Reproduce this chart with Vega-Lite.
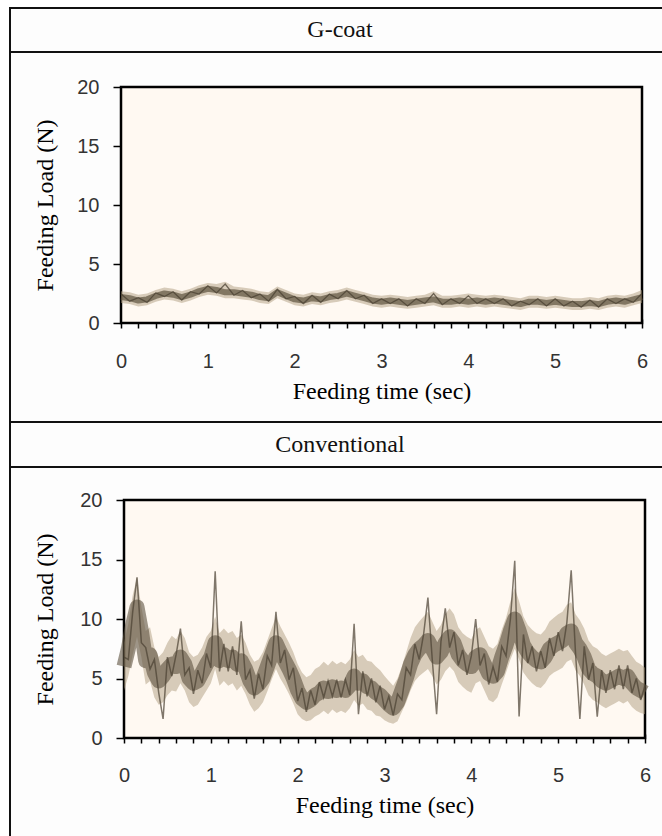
{
  "$schema": "https://vega.github.io/schema/vega-lite/v6.json",
  "padding": {"left": 9, "top": 7, "right": 0, "bottom": 0},
  "background": "#ffffff",
  "spacing": 0,
  "bounds": "flush",
  "config": {
    "view": {"stroke": "#111111", "strokeWidth": 2, "fill": "#fdfdfd"},
    "font": "Liberation Serif",
    "axis": {
      "domain": false, "grid": false, "zindex": 1,
      "tickWidth": 1.5, "tickColor": "#000000",
      "labelFont": "Liberation Sans", "labelFontSize": 20, "labelColor": "#333333",
      "labelOverlap": false, "labelFlush": false,
      "titleFont": "Liberation Serif", "titleFontSize": 24, "titleFontWeight": "normal", "titleColor": "#000000"
    },
    "axisX": {"titleBaseline": "alphabetic"},
    "axisY": {"titleBaseline": "middle"}
  },
  "datasets": {
    "frame": [{"t": 0, "t2": 6, "lo": 0, "hi": 20}],
    "gcoat": [
      {"t": 0.0, "c": 2.2, "v": 2.45, "lo": 1.7, "hi": 2.7},
      {"t": 0.1, "c": 2.1, "v": 1.85, "lo": 1.6, "hi": 2.6},
      {"t": 0.2, "c": 1.9, "v": 2.15, "lo": 1.4, "hi": 2.4},
      {"t": 0.3, "c": 2.0, "v": 1.75, "lo": 1.5, "hi": 2.5},
      {"t": 0.4, "c": 2.3, "v": 2.55, "lo": 1.8, "hi": 2.8},
      {"t": 0.5, "c": 2.5, "v": 2.25, "lo": 2.0, "hi": 3.0},
      {"t": 0.6, "c": 2.4, "v": 2.65, "lo": 1.9, "hi": 2.9},
      {"t": 0.7, "c": 2.2, "v": 1.95, "lo": 1.7, "hi": 2.7},
      {"t": 0.8, "c": 2.4, "v": 2.65, "lo": 1.9, "hi": 2.9},
      {"t": 0.9, "c": 2.7, "v": 2.45, "lo": 2.2, "hi": 3.2},
      {"t": 1.0, "c": 2.9, "v": 3.15, "lo": 2.4, "hi": 3.4},
      {"t": 1.1, "c": 2.8, "v": 2.55, "lo": 2.3, "hi": 3.3},
      {"t": 1.2, "c": 2.6, "v": 3.3, "lo": 2.1, "hi": 3.5},
      {"t": 1.3, "c": 2.6, "v": 2.35, "lo": 2.1, "hi": 3.1},
      {"t": 1.4, "c": 2.5, "v": 2.75, "lo": 2.0, "hi": 3.0},
      {"t": 1.5, "c": 2.4, "v": 2.15, "lo": 1.9, "hi": 2.9},
      {"t": 1.6, "c": 2.2, "v": 2.45, "lo": 1.7, "hi": 2.7},
      {"t": 1.7, "c": 2.1, "v": 1.85, "lo": 1.6, "hi": 2.6},
      {"t": 1.8, "c": 2.6, "v": 2.85, "lo": 2.1, "hi": 3.1},
      {"t": 1.9, "c": 2.3, "v": 2.05, "lo": 1.8, "hi": 2.8},
      {"t": 2.0, "c": 2.0, "v": 2.25, "lo": 1.5, "hi": 2.5},
      {"t": 2.1, "c": 1.9, "v": 1.65, "lo": 1.4, "hi": 2.4},
      {"t": 2.2, "c": 2.1, "v": 2.35, "lo": 1.6, "hi": 2.6},
      {"t": 2.3, "c": 2.0, "v": 1.75, "lo": 1.5, "hi": 2.5},
      {"t": 2.4, "c": 2.2, "v": 2.45, "lo": 1.7, "hi": 2.7},
      {"t": 2.5, "c": 2.3, "v": 2.05, "lo": 1.8, "hi": 2.8},
      {"t": 2.6, "c": 2.5, "v": 2.75, "lo": 2.0, "hi": 3.0},
      {"t": 2.7, "c": 2.3, "v": 2.05, "lo": 1.8, "hi": 2.8},
      {"t": 2.8, "c": 2.1, "v": 2.35, "lo": 1.6, "hi": 2.6},
      {"t": 2.9, "c": 1.9, "v": 1.65, "lo": 1.4, "hi": 2.4},
      {"t": 3.0, "c": 1.8, "v": 2.05, "lo": 1.3, "hi": 2.3},
      {"t": 3.1, "c": 1.9, "v": 1.65, "lo": 1.4, "hi": 2.4},
      {"t": 3.2, "c": 1.8, "v": 2.05, "lo": 1.3, "hi": 2.3},
      {"t": 3.3, "c": 1.7, "v": 1.45, "lo": 1.2, "hi": 2.2},
      {"t": 3.4, "c": 1.8, "v": 2.05, "lo": 1.3, "hi": 2.3},
      {"t": 3.5, "c": 1.9, "v": 1.65, "lo": 1.4, "hi": 2.4},
      {"t": 3.6, "c": 2.0, "v": 2.5, "lo": 1.5, "hi": 2.7},
      {"t": 3.7, "c": 1.8, "v": 1.55, "lo": 1.3, "hi": 2.3},
      {"t": 3.8, "c": 1.8, "v": 2.05, "lo": 1.3, "hi": 2.3},
      {"t": 3.9, "c": 1.9, "v": 1.65, "lo": 1.4, "hi": 2.4},
      {"t": 4.0, "c": 1.8, "v": 2.3, "lo": 1.3, "hi": 2.5},
      {"t": 4.1, "c": 1.9, "v": 1.65, "lo": 1.4, "hi": 2.4},
      {"t": 4.2, "c": 1.8, "v": 2.05, "lo": 1.3, "hi": 2.3},
      {"t": 4.3, "c": 1.9, "v": 1.65, "lo": 1.4, "hi": 2.4},
      {"t": 4.4, "c": 1.8, "v": 2.05, "lo": 1.3, "hi": 2.3},
      {"t": 4.5, "c": 1.7, "v": 1.45, "lo": 1.2, "hi": 2.2},
      {"t": 4.6, "c": 1.6, "v": 1.85, "lo": 1.1, "hi": 2.1},
      {"t": 4.7, "c": 1.8, "v": 1.55, "lo": 1.3, "hi": 2.3},
      {"t": 4.8, "c": 1.8, "v": 2.05, "lo": 1.3, "hi": 2.3},
      {"t": 4.9, "c": 1.7, "v": 1.45, "lo": 1.2, "hi": 2.2},
      {"t": 5.0, "c": 1.8, "v": 2.05, "lo": 1.3, "hi": 2.3},
      {"t": 5.1, "c": 1.7, "v": 1.45, "lo": 1.2, "hi": 2.2},
      {"t": 5.2, "c": 1.6, "v": 1.85, "lo": 1.1, "hi": 2.1},
      {"t": 5.3, "c": 1.6, "v": 1.35, "lo": 1.1, "hi": 2.1},
      {"t": 5.4, "c": 1.7, "v": 1.95, "lo": 1.2, "hi": 2.2},
      {"t": 5.5, "c": 1.6, "v": 1.35, "lo": 1.1, "hi": 2.1},
      {"t": 5.6, "c": 1.8, "v": 2.05, "lo": 1.3, "hi": 2.3},
      {"t": 5.7, "c": 1.9, "v": 1.65, "lo": 1.4, "hi": 2.4},
      {"t": 5.8, "c": 1.8, "v": 2.05, "lo": 1.3, "hi": 2.3},
      {"t": 5.9, "c": 2.0, "v": 1.75, "lo": 1.5, "hi": 2.5},
      {"t": 6.0, "c": 2.2, "v": 2.5, "lo": 1.7, "hi": 2.8}
    ],
    "conv": [
      {"t": 0.00, "c": 6.0, "v": 6.8, "lo": 4.0, "hi": 8.0},
      {"t": 0.05, "c": 7.5, "v": 6.6, "lo": 5.2, "hi": 9.6},
      {"t": 0.10, "c": 9.5, "v": 10.6, "lo": 7.0, "hi": 12.0},
      {"t": 0.15, "c": 11.0, "v": 13.5, "lo": 8.5, "hi": 13.5},
      {"t": 0.20, "c": 9.0, "v": 8.0, "lo": 6.8, "hi": 11.0},
      {"t": 0.25, "c": 6.5, "v": 7.6, "lo": 4.5, "hi": 9.0},
      {"t": 0.30, "c": 7.0, "v": 5.8, "lo": 4.8, "hi": 9.3},
      {"t": 0.35, "c": 5.5, "v": 6.6, "lo": 3.4, "hi": 7.6},
      {"t": 0.40, "c": 4.8, "v": 3.8, "lo": 2.8, "hi": 6.8},
      {"t": 0.45, "c": 5.2, "v": 1.6, "lo": 3.0, "hi": 7.2},
      {"t": 0.50, "c": 5.8, "v": 6.8, "lo": 3.6, "hi": 8.0},
      {"t": 0.55, "c": 6.2, "v": 5.2, "lo": 4.0, "hi": 8.6},
      {"t": 0.60, "c": 6.0, "v": 7.0, "lo": 3.9, "hi": 8.3},
      {"t": 0.65, "c": 6.8, "v": 9.2, "lo": 4.6, "hi": 9.0},
      {"t": 0.70, "c": 6.2, "v": 5.3, "lo": 4.0, "hi": 8.4},
      {"t": 0.75, "c": 5.0, "v": 5.9, "lo": 3.0, "hi": 7.2},
      {"t": 0.80, "c": 4.6, "v": 3.7, "lo": 2.6, "hi": 6.8},
      {"t": 0.85, "c": 4.8, "v": 5.7, "lo": 2.8, "hi": 7.0},
      {"t": 0.90, "c": 5.5, "v": 4.6, "lo": 3.4, "hi": 7.6},
      {"t": 0.95, "c": 6.2, "v": 7.1, "lo": 4.0, "hi": 8.5},
      {"t": 1.00, "c": 6.8, "v": 5.9, "lo": 4.6, "hi": 9.0},
      {"t": 1.05, "c": 8.0, "v": 14.0, "lo": 5.8, "hi": 10.2},
      {"t": 1.10, "c": 6.5, "v": 5.6, "lo": 4.4, "hi": 8.8},
      {"t": 1.15, "c": 7.0, "v": 7.9, "lo": 4.8, "hi": 9.2},
      {"t": 1.20, "c": 6.5, "v": 5.6, "lo": 4.4, "hi": 8.8},
      {"t": 1.25, "c": 6.8, "v": 7.7, "lo": 4.6, "hi": 9.0},
      {"t": 1.30, "c": 6.2, "v": 5.3, "lo": 4.0, "hi": 8.4},
      {"t": 1.35, "c": 6.5, "v": 9.8, "lo": 4.4, "hi": 8.7},
      {"t": 1.40, "c": 5.8, "v": 4.9, "lo": 3.7, "hi": 8.0},
      {"t": 1.45, "c": 4.8, "v": 5.7, "lo": 2.8, "hi": 7.0},
      {"t": 1.50, "c": 4.2, "v": 3.3, "lo": 2.2, "hi": 6.4},
      {"t": 1.55, "c": 4.5, "v": 5.4, "lo": 2.5, "hi": 6.6},
      {"t": 1.60, "c": 5.0, "v": 4.1, "lo": 3.0, "hi": 7.2},
      {"t": 1.65, "c": 6.0, "v": 6.9, "lo": 3.9, "hi": 8.2},
      {"t": 1.70, "c": 7.0, "v": 6.1, "lo": 4.9, "hi": 9.2},
      {"t": 1.75, "c": 8.0, "v": 10.6, "lo": 5.8, "hi": 10.2},
      {"t": 1.80, "c": 7.2, "v": 6.3, "lo": 5.0, "hi": 9.4},
      {"t": 1.85, "c": 6.5, "v": 7.4, "lo": 4.4, "hi": 8.7},
      {"t": 1.90, "c": 5.8, "v": 4.9, "lo": 3.7, "hi": 8.0},
      {"t": 1.95, "c": 5.0, "v": 5.9, "lo": 2.9, "hi": 7.2},
      {"t": 2.00, "c": 4.0, "v": 3.1, "lo": 2.0, "hi": 6.2},
      {"t": 2.05, "c": 3.3, "v": 4.2, "lo": 1.6, "hi": 5.5},
      {"t": 2.10, "c": 3.0, "v": 2.2, "lo": 1.4, "hi": 5.1},
      {"t": 2.15, "c": 3.2, "v": 4.0, "lo": 1.5, "hi": 5.3},
      {"t": 2.20, "c": 3.6, "v": 2.8, "lo": 1.8, "hi": 5.8},
      {"t": 2.25, "c": 3.8, "v": 4.7, "lo": 2.0, "hi": 6.0},
      {"t": 2.30, "c": 4.2, "v": 3.4, "lo": 2.3, "hi": 6.4},
      {"t": 2.35, "c": 3.9, "v": 4.8, "lo": 2.0, "hi": 6.1},
      {"t": 2.40, "c": 4.3, "v": 3.5, "lo": 2.4, "hi": 6.5},
      {"t": 2.45, "c": 4.0, "v": 4.9, "lo": 2.1, "hi": 6.2},
      {"t": 2.50, "c": 4.2, "v": 3.4, "lo": 2.3, "hi": 6.4},
      {"t": 2.55, "c": 4.0, "v": 4.9, "lo": 2.1, "hi": 6.2},
      {"t": 2.60, "c": 4.4, "v": 3.6, "lo": 2.5, "hi": 6.6},
      {"t": 2.65, "c": 5.2, "v": 9.6, "lo": 3.2, "hi": 7.4},
      {"t": 2.70, "c": 4.6, "v": 2.0, "lo": 2.7, "hi": 6.8},
      {"t": 2.75, "c": 4.8, "v": 5.6, "lo": 2.9, "hi": 7.0},
      {"t": 2.80, "c": 4.3, "v": 3.5, "lo": 2.4, "hi": 6.5},
      {"t": 2.85, "c": 4.2, "v": 5.0, "lo": 2.3, "hi": 6.4},
      {"t": 2.90, "c": 3.8, "v": 3.0, "lo": 1.9, "hi": 6.0},
      {"t": 2.95, "c": 3.6, "v": 4.4, "lo": 1.8, "hi": 5.7},
      {"t": 3.00, "c": 3.2, "v": 2.4, "lo": 1.5, "hi": 5.2},
      {"t": 3.05, "c": 2.8, "v": 3.5, "lo": 1.3, "hi": 4.8},
      {"t": 3.10, "c": 2.5, "v": 1.9, "lo": 1.2, "hi": 4.4},
      {"t": 3.15, "c": 3.0, "v": 3.7, "lo": 1.4, "hi": 5.0},
      {"t": 3.20, "c": 4.0, "v": 3.2, "lo": 2.2, "hi": 6.0},
      {"t": 3.25, "c": 5.0, "v": 5.9, "lo": 3.0, "hi": 7.2},
      {"t": 3.30, "c": 6.2, "v": 5.3, "lo": 4.0, "hi": 8.4},
      {"t": 3.35, "c": 7.0, "v": 7.9, "lo": 4.8, "hi": 9.3},
      {"t": 3.40, "c": 7.5, "v": 6.6, "lo": 5.2, "hi": 9.8},
      {"t": 3.45, "c": 7.8, "v": 8.7, "lo": 5.5, "hi": 10.2},
      {"t": 3.50, "c": 8.2, "v": 11.8, "lo": 5.8, "hi": 10.6},
      {"t": 3.55, "c": 7.5, "v": 6.6, "lo": 5.2, "hi": 9.8},
      {"t": 3.60, "c": 6.8, "v": 2.0, "lo": 4.5, "hi": 9.0},
      {"t": 3.65, "c": 7.2, "v": 8.1, "lo": 4.9, "hi": 9.5},
      {"t": 3.70, "c": 8.0, "v": 10.9, "lo": 5.6, "hi": 10.4},
      {"t": 3.75, "c": 8.5, "v": 7.6, "lo": 6.0, "hi": 10.9},
      {"t": 3.80, "c": 8.0, "v": 8.9, "lo": 5.6, "hi": 10.4},
      {"t": 3.85, "c": 7.0, "v": 6.1, "lo": 4.7, "hi": 9.3},
      {"t": 3.90, "c": 6.5, "v": 7.4, "lo": 4.3, "hi": 8.8},
      {"t": 3.95, "c": 6.2, "v": 5.3, "lo": 4.0, "hi": 8.5},
      {"t": 4.00, "c": 6.0, "v": 6.9, "lo": 3.8, "hi": 8.3},
      {"t": 4.05, "c": 6.8, "v": 10.0, "lo": 4.6, "hi": 9.1},
      {"t": 4.10, "c": 7.0, "v": 6.1, "lo": 4.8, "hi": 9.3},
      {"t": 4.15, "c": 6.2, "v": 7.1, "lo": 4.0, "hi": 8.5},
      {"t": 4.20, "c": 5.4, "v": 4.5, "lo": 3.2, "hi": 7.7},
      {"t": 4.25, "c": 5.2, "v": 6.0, "lo": 3.0, "hi": 7.5},
      {"t": 4.30, "c": 5.6, "v": 4.7, "lo": 3.4, "hi": 7.9},
      {"t": 4.35, "c": 6.8, "v": 7.7, "lo": 4.5, "hi": 9.1},
      {"t": 4.40, "c": 7.8, "v": 6.9, "lo": 5.5, "hi": 10.1},
      {"t": 4.45, "c": 9.0, "v": 10.0, "lo": 6.6, "hi": 11.5},
      {"t": 4.50, "c": 10.0, "v": 14.9, "lo": 7.5, "hi": 12.6},
      {"t": 4.55, "c": 9.0, "v": 1.8, "lo": 6.6, "hi": 11.5},
      {"t": 4.60, "c": 7.8, "v": 8.7, "lo": 5.5, "hi": 10.2},
      {"t": 4.65, "c": 7.2, "v": 6.3, "lo": 5.0, "hi": 9.5},
      {"t": 4.70, "c": 6.8, "v": 7.7, "lo": 4.6, "hi": 9.1},
      {"t": 4.75, "c": 6.5, "v": 5.6, "lo": 4.3, "hi": 8.8},
      {"t": 4.80, "c": 6.4, "v": 7.3, "lo": 4.2, "hi": 8.7},
      {"t": 4.85, "c": 6.8, "v": 5.9, "lo": 4.6, "hi": 9.1},
      {"t": 4.90, "c": 7.5, "v": 8.4, "lo": 5.2, "hi": 9.8},
      {"t": 4.95, "c": 7.8, "v": 6.9, "lo": 5.5, "hi": 10.1},
      {"t": 5.00, "c": 8.0, "v": 8.9, "lo": 5.7, "hi": 10.4},
      {"t": 5.05, "c": 8.2, "v": 7.3, "lo": 5.9, "hi": 10.6},
      {"t": 5.10, "c": 8.8, "v": 9.7, "lo": 6.4, "hi": 11.2},
      {"t": 5.15, "c": 9.0, "v": 14.1, "lo": 6.6, "hi": 11.4},
      {"t": 5.20, "c": 8.0, "v": 7.1, "lo": 5.7, "hi": 10.4},
      {"t": 5.25, "c": 7.5, "v": 1.6, "lo": 5.2, "hi": 9.9},
      {"t": 5.30, "c": 6.8, "v": 7.7, "lo": 4.5, "hi": 9.2},
      {"t": 5.35, "c": 5.8, "v": 4.9, "lo": 3.6, "hi": 8.2},
      {"t": 5.40, "c": 5.4, "v": 6.3, "lo": 3.2, "hi": 7.7},
      {"t": 5.45, "c": 5.2, "v": 1.8, "lo": 3.0, "hi": 7.5},
      {"t": 5.50, "c": 4.8, "v": 5.7, "lo": 2.7, "hi": 7.1},
      {"t": 5.55, "c": 4.6, "v": 3.8, "lo": 2.5, "hi": 6.9},
      {"t": 5.60, "c": 4.8, "v": 5.7, "lo": 2.7, "hi": 7.1},
      {"t": 5.65, "c": 5.0, "v": 4.1, "lo": 2.9, "hi": 7.3},
      {"t": 5.70, "c": 5.2, "v": 6.1, "lo": 3.1, "hi": 7.5},
      {"t": 5.75, "c": 5.0, "v": 4.1, "lo": 2.9, "hi": 7.3},
      {"t": 5.80, "c": 5.2, "v": 6.1, "lo": 3.1, "hi": 7.4},
      {"t": 5.85, "c": 4.6, "v": 3.8, "lo": 2.6, "hi": 6.9},
      {"t": 5.90, "c": 4.2, "v": 5.0, "lo": 2.3, "hi": 6.4},
      {"t": 5.95, "c": 4.0, "v": 3.2, "lo": 2.1, "hi": 6.2},
      {"t": 6.00, "c": 3.8, "v": 4.4, "lo": 2.0, "hi": 5.9}
    ]
  },
  "vconcat": [
    {
      "width": 660,
      "height": 44,
      "data": {"values": [{"label": "G-coat", "px": 0.5, "py": 0.5}]},
      "mark": {"type": "text", "font": "Liberation Serif", "fontSize": 24, "color": "#111111"},
      "encoding": {
        "text": {"field": "label"},
        "x": {"field": "px", "type": "quantitative", "scale": {"domain": [0, 1]}, "axis": null},
        "y": {"field": "py", "type": "quantitative", "scale": {"domain": [0, 1]}, "axis": null}
      }
    },
    {
      "width": 660,
      "height": 370,
      "encoding": {
        "x": {
          "field": "t", "type": "quantitative",
          "scale": {"domain": [0, 6], "range": [111, 632], "nice": false, "zero": false},
          "axis": {
            "orient": "bottom", "offset": -103,
            "values": [0, 0.2, 0.4, 0.6, 0.8, 1, 1.2, 1.4, 1.6, 1.8, 2, 2.2, 2.4, 2.6, 2.8, 3, 3.2, 3.4, 3.6, 3.8, 4, 4.2, 4.4, 4.6, 4.8, 5, 5.2, 5.4, 5.6, 5.8, 6],
            "tickSize": 9,
            "labelExpr": "datum.value % 1 === 0 ? format(datum.value, 'd') : ''",
            "labelPadding": 23, "labelOverlap": false, "labelFlush": false,
            "title": "Feeding time (sec)", "titleY": 79
          }
        }
      },
      "layer": [
        {
          "data": {"name": "frame"},
          "mark": {"type": "rect", "fill": "#fff9f2", "stroke": "#000000", "strokeWidth": 2.5},
          "encoding": {
            "x2": {"field": "t2"},
            "y": {
              "field": "lo", "type": "quantitative",
              "scale": {"domain": [0, 20], "range": [271, 35], "nice": false, "zero": false},
              "axis": {"orient": "left", "offset": -111, "values": [0, 5, 10, 15, 20], "tickSize": 8, "labelPadding": 14, "labelOverlap": false, "labelFlush": false, "title": "Feeding Load (N)", "titleX": -76}
            },
            "y2": {"field": "hi"}
          }
        },
        {
          "data": {"name": "gcoat"},
          "mark": {"type": "area", "color": "#b09d80", "opacity": 0.5},
          "encoding": {
            "y": {
              "field": "lo", "type": "quantitative",
              "scale": {"domain": [0, 20], "range": [271, 35], "nice": false, "zero": false},
              "axis": {"orient": "left", "offset": -111, "values": [0, 5, 10, 15, 20], "tickSize": 8, "labelPadding": 14, "labelOverlap": false, "labelFlush": false, "title": "Feeding Load (N)", "titleX": -76}
            },
            "y2": {"field": "hi"}
          }
        },
        {
          "data": {"name": "gcoat"},
          "mark": {"type": "line", "color": "#5e523f", "strokeWidth": 6, "opacity": 0.7, "strokeJoin": "round", "strokeCap": "butt"},
          "encoding": {
            "y": {
              "field": "c", "type": "quantitative",
              "scale": {"domain": [0, 20], "range": [271, 35], "nice": false, "zero": false},
              "axis": {"orient": "left", "offset": -111, "values": [0, 5, 10, 15, 20], "tickSize": 8, "labelPadding": 14, "labelOverlap": false, "labelFlush": false, "title": "Feeding Load (N)", "titleX": -76}
            }
          }
        },
        {
          "data": {"name": "gcoat"},
          "mark": {"type": "line", "color": "#4a4032", "strokeWidth": 1.3, "opacity": 0.75},
          "encoding": {
            "y": {
              "field": "v", "type": "quantitative",
              "scale": {"domain": [0, 20], "range": [271, 35], "nice": false, "zero": false},
              "axis": {"orient": "left", "offset": -111, "values": [0, 5, 10, 15, 20], "tickSize": 8, "labelPadding": 14, "labelOverlap": false, "labelFlush": false, "title": "Feeding Load (N)", "titleX": -76}
            }
          }
        }
      ]
    },
    {
      "width": 660,
      "height": 45,
      "data": {"values": [{"label": "Conventional", "px": 0.5, "py": 0.5}]},
      "mark": {"type": "text", "font": "Liberation Serif", "fontSize": 24, "color": "#111111"},
      "encoding": {
        "text": {"field": "label"},
        "x": {"field": "px", "type": "quantitative", "scale": {"domain": [0, 1]}, "axis": null},
        "y": {"field": "py", "type": "quantitative", "scale": {"domain": [0, 1]}, "axis": null}
      }
    },
    {
      "width": 660,
      "height": 380,
      "encoding": {
        "x": {
          "field": "t", "type": "quantitative",
          "scale": {"domain": [0, 6], "range": [114, 635], "nice": false, "zero": false},
          "axis": {
            "orient": "bottom", "offset": -113,
            "values": [0, 0.2, 0.4, 0.6, 0.8, 1, 1.2, 1.4, 1.6, 1.8, 2, 2.2, 2.4, 2.6, 2.8, 3, 3.2, 3.4, 3.6, 3.8, 4, 4.2, 4.4, 4.6, 4.8, 5, 5.2, 5.4, 5.6, 5.8, 6],
            "tickSize": 9,
            "labelExpr": "datum.value % 1 === 0 ? format(datum.value, 'd') : ''",
            "labelPadding": 22, "labelOverlap": false, "labelFlush": false,
            "title": "Feeding time (sec)", "titleY": 78
          }
        }
      },
      "layer": [
        {
          "data": {"name": "frame"},
          "mark": {"type": "rect", "fill": "#fff9f2", "stroke": "#000000", "strokeWidth": 2.5},
          "encoding": {
            "x2": {"field": "t2"},
            "y": {
              "field": "lo", "type": "quantitative",
              "scale": {"domain": [0, 20], "range": [271, 33], "nice": false, "zero": false},
              "axis": {"orient": "left", "offset": -114, "values": [0, 5, 10, 15, 20], "tickSize": 8, "labelPadding": 14, "labelOverlap": false, "labelFlush": false, "title": "Feeding Load (N)", "titleX": -79}
            },
            "y2": {"field": "hi"}
          }
        },
        {
          "data": {"name": "conv"},
          "mark": {"type": "area", "color": "#b09d80", "opacity": 0.5},
          "encoding": {
            "y": {
              "field": "lo", "type": "quantitative",
              "scale": {"domain": [0, 20], "range": [271, 33], "nice": false, "zero": false},
              "axis": {"orient": "left", "offset": -114, "values": [0, 5, 10, 15, 20], "tickSize": 8, "labelPadding": 14, "labelOverlap": false, "labelFlush": false, "title": "Feeding Load (N)", "titleX": -79}
            },
            "y2": {"field": "hi"}
          }
        },
        {
          "data": {"name": "conv"},
          "mark": {"type": "line", "color": "#5e523f", "strokeWidth": 15, "opacity": 0.6, "strokeJoin": "round", "strokeCap": "butt"},
          "encoding": {
            "y": {
              "field": "c", "type": "quantitative",
              "scale": {"domain": [0, 20], "range": [271, 33], "nice": false, "zero": false},
              "axis": {"orient": "left", "offset": -114, "values": [0, 5, 10, 15, 20], "tickSize": 8, "labelPadding": 14, "labelOverlap": false, "labelFlush": false, "title": "Feeding Load (N)", "titleX": -79}
            }
          }
        },
        {
          "data": {"name": "conv"},
          "mark": {"type": "line", "color": "#4a4032", "strokeWidth": 1.5, "opacity": 0.7},
          "encoding": {
            "y": {
              "field": "v", "type": "quantitative",
              "scale": {"domain": [0, 20], "range": [271, 33], "nice": false, "zero": false},
              "axis": {"orient": "left", "offset": -114, "values": [0, 5, 10, 15, 20], "tickSize": 8, "labelPadding": 14, "labelOverlap": false, "labelFlush": false, "title": "Feeding Load (N)", "titleX": -79}
            }
          }
        }
      ]
    }
  ]
}
